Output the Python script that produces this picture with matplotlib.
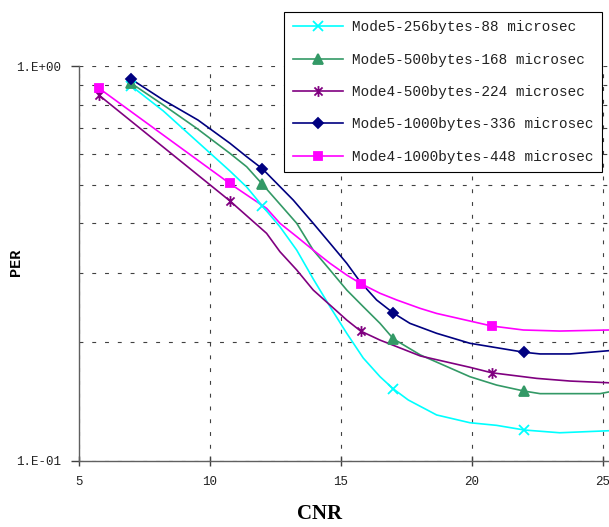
import numpy as np
import matplotlib.pyplot as plt
from matplotlib.lines import Line2D
from matplotlib.path import Path

# CNR (dB) / PER values
m5_256_x = [7.0, 8.22, 9.49, 10.76, 11.40, 12.0, 12.67, 13.31, 13.94, 14.58, 15.22,
            15.85, 16.49, 17.0, 17.57, 18.65, 19.92, 20.94, 22.0, 23.35, 25.23]
m5_256_y = [0.892, 0.771, 0.647, 0.543, 0.4945, 0.4425, 0.392, 0.342, 0.289, 0.2457, 0.2103,
            0.182, 0.1632, 0.1519, 0.1424, 0.1305, 0.1247, 0.1228, 0.1195, 0.1176, 0.119]

m5_500_x = [7.0, 8.22, 9.49, 10.76, 11.40, 12.0, 13.31, 13.94, 14.58, 15.22, 15.85,
            16.49, 17.0, 18.03, 19.92, 20.94, 22.0, 22.60, 24.89, 25.23]
m5_500_y = [0.906, 0.7985, 0.697, 0.602, 0.5566, 0.5025, 0.400, 0.342, 0.3045, 0.2708, 0.2457,
            0.2229, 0.2036, 0.1853, 0.1632, 0.1554, 0.150, 0.1478, 0.1478, 0.1493]

m4_500_x = [5.75, 10.75, 12.16, 12.67, 13.31, 13.94, 14.58, 15.22, 15.75, 16.49, 17.13,
            18.03, 19.92, 20.75, 22.47, 23.74, 25.23]
m4_500_y = [0.847, 0.4565, 0.3772, 0.3388, 0.3045, 0.2708, 0.2481, 0.2272, 0.2131, 0.2021, 0.1945,
            0.1842, 0.1724, 0.167, 0.1616, 0.1591, 0.1575]

m5_1000_x = [7.0, 8.22, 9.54, 10.76, 11.40, 12.0, 13.18, 13.94, 14.58, 15.22, 15.73,
             16.36, 17.0, 17.63, 18.65, 19.92, 22.0, 22.60, 23.74, 25.23]
m5_1000_y = [0.928, 0.822, 0.7314, 0.6386, 0.5903, 0.550, 0.458, 0.400, 0.356, 0.3166, 0.2843,
             0.2555, 0.2367, 0.2229, 0.2103, 0.1984, 0.1882, 0.1864, 0.1864, 0.190]

m4_1000_x = [5.75, 10.75, 12.16, 12.67, 13.31, 13.94, 14.58, 15.22, 15.75, 16.49, 17.13,
             18.02, 18.65, 20.75, 21.96, 23.35, 25.23]
m4_1000_y = [0.882, 0.505, 0.4365, 0.400, 0.370, 0.342, 0.3166, 0.2956, 0.2813, 0.2657, 0.2555,
             0.2433, 0.2362, 0.2195, 0.2144, 0.2131, 0.2144]

# points that carry a marker
mode5_marks = [7.0, 12.0, 17.0, 22.0]
mode4_marks = [5.75, 10.75, 15.75, 20.75]

labels = [
    "Mode5-256bytes-88 microsec",
    "Mode5-500bytes-168 microsec",
    "Mode4-500bytes-224 microsec",
    "Mode5-1000bytes-336 microsec",
    "Mode4-1000bytes-448 microsec",
]

# Excel style asterisk: vertical bar plus an X
star = Path([(0, -1), (0, 1), (-0.75, -0.75), (0.75, 0.75), (-0.75, 0.75), (0.75, -0.75)],
            [Path.MOVETO, Path.LINETO, Path.MOVETO, Path.LINETO, Path.MOVETO, Path.LINETO])

series = [
    (m5_256_x, m5_256_y, mode5_marks, "#00FFFF", "x", 7.7),
    (m5_500_x, m5_500_y, mode5_marks, "#339966", "^", 7.4),
    (m4_500_x, m4_500_y, mode4_marks, "#800080", star, 7.8),
    (m5_1000_x, m5_1000_y, mode5_marks, "#000080", "D", 5.0),
    (m4_1000_x, m4_1000_y, mode4_marks, "#FF00FF", "s", 6.3),
]

W, H = 609, 527
fig = plt.figure(figsize=(W / 100, H / 100), dpi=100)
ax = fig.add_axes([79 / W, 1 - 460.5 / H, 1 - 79 / W, 394 / H])

handles = []
for (x, y, marks, color, marker, ms), label in zip(series, labels):
    x = np.array(x)
    y = np.array(y)
    ax.plot(x, y, color=color, lw=1.2, zorder=3)
    sel = np.isin(x, marks)
    ax.plot(x[sel], y[sel], ls="none", marker=marker, ms=ms, color=color,
            mec=color, mew=1.3, zorder=4)
    handles.append(Line2D([], [], color=color, lw=1.2, marker=marker, ms=ms,
                          mec=color, mew=1.3, label=label))

ax.set_yscale("log")
ax.set_xlim(5, 25.23)
ax.set_ylim(0.1, 1.0)

ax.set_xticks([5, 10, 15, 20, 25])
ax.set_xticklabels(["5", "10", "15", "20", "25"])
ax.set_yticks([0.1, 1.0])
ax.set_yticklabels(["1.E-01", "1.E+00"])
ax.set_yticks([0.2, 0.3, 0.4, 0.5, 0.6, 0.7, 0.8, 0.9], minor=True)
ax.yaxis.set_minor_formatter(plt.NullFormatter())

dash = (0, (3.5, 8))
ax.grid(True, axis="x", which="major", ls=dash, lw=0.8, color="#404040")
ax.grid(True, axis="y", which="both", ls=dash, lw=0.8, color="#404040")
ax.set_axisbelow(True)

for side in ["top", "right"]:
    ax.spines[side].set_visible(False)
for side in ["left", "bottom"]:
    ax.spines[side].set_color("#606060")
    ax.spines[side].set_linewidth(1.0)

ax.tick_params(axis="x", direction="inout", length=7, width=1, color="#404040",
               pad=8, labelsize=9, labelcolor="#222222", labelfontfamily="Liberation Mono")
ax.tick_params(axis="y", which="major", direction="out", length=6, width=1, color="#404040",
               pad=7, labelsize=9, labelcolor="#222222", labelfontfamily="Liberation Mono")
ax.tick_params(axis="y", which="minor", length=0)

leg = fig.legend(handles=handles, loc="upper left", bbox_to_anchor=(284 / W, 1 - 11.7 / H),
                 bbox_transform=fig.transFigure, borderaxespad=0, frameon=True,
                 fancybox=False, edgecolor="black", framealpha=1,
                 prop={"family": "Liberation Mono", "size": 10.4},
                 borderpad=0.6, handlelength=3.5, handletextpad=0.6, labelspacing=1.27)
leg.get_frame().set_linewidth(0.8)
for t in leg.get_texts():
    t.set_color("#222222")

fig.text(320 / W, 1 - 514 / H, "CNR", ha="center", va="center",
         family="Liberation Serif", fontweight="bold", fontsize=15)
fig.text(16 / W, 1 - 262 / H, "PER", ha="center", va="center", rotation=90,
         family="Liberation Mono", fontweight="bold", fontsize=11)

fig.savefig("out.png", dpi=100)
